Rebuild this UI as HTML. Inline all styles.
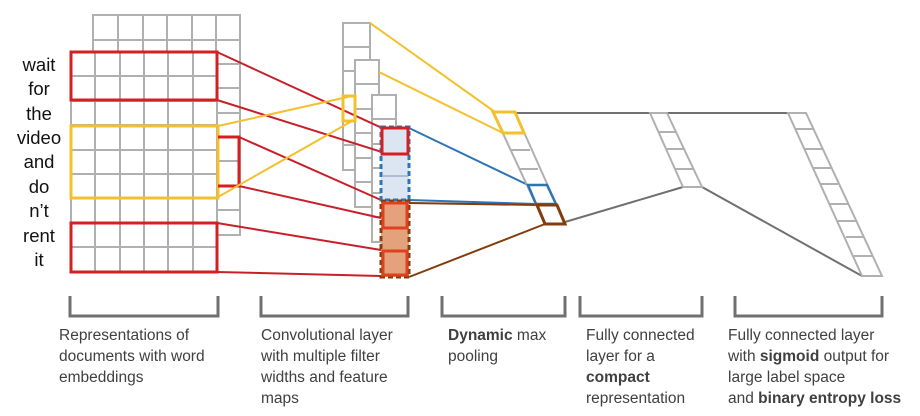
<!DOCTYPE html>
<html><head><meta charset="utf-8"><style>
html,body{margin:0;padding:0;background:#fff;}
svg{display:block;font-family:"Liberation Sans",sans-serif;}
.lbl{font-size:15.5px;fill:#404040;}
.w{font-size:18.5px;fill:#111;text-anchor:middle;}
</style></head><body>
<svg width="920" height="416" viewBox="0 0 920 416">
<g stroke="#b0b0b0" stroke-width="2" fill="#fff">
<rect x="93" y="15" width="147" height="220"/>
<path d="M118 15V52M143 15V52M167 15V52M192 15V52M216 15V52 M93 40H240 M217 64H240 M217 88H240 M217 113H240 M217 137H240 M217 161H240 M217 186H240 M217 210H240"/>
</g>
<g stroke="#b0b0b0" stroke-width="2" fill="#fff">
<rect x="71" y="52" width="146" height="220"/>
<path d="M95 52V272M120 52V272M144 52V272M168 52V272M193 52V272 M71 76H217M71 101H217M71 125H217M71 150H217M71 174H217M71 198H217M71 223H217M71 247H217"/>
</g>
<g>
<text class="w" x="39" y="71">wait</text><text class="w" x="39" y="95">for</text><text class="w" x="39" y="120">the</text><text class="w" x="39" y="144">video</text><text class="w" x="39" y="168">and</text><text class="w" x="39" y="193">do</text><text class="w" x="39" y="217">n’t</text><text class="w" x="39" y="242">rent</text><text class="w" x="39" y="266">it</text>
</g>
<g fill="none" stroke-width="3">
<rect x="71" y="52" width="146" height="48" stroke="#d42020"/>
<rect x="71" y="223" width="146" height="49" stroke="#d42020"/>
<rect x="71" y="126" width="147" height="72" stroke="#f2c12e"/>
<path d="M218 137H239V186H218" stroke="#d42020"/>
</g>
<g stroke="#b0b0b0" stroke-width="2" fill="#fff">
<rect x="343" y="23" width="27" height="147"/>
<path d="M343 47H370M343 71H370M343 96H370M343 121H370M343 145H370"/>
<rect x="355" y="60" width="24" height="147"/>
<path d="M355 84H379M355 109H379M355 133H379M355 158H379M355 182H379"/>
<rect x="372" y="95" width="24" height="147"/>
<path d="M372 119H396M372 144H396M372 168H396M372 193H396M372 217H396"/>
</g>
<g fill="none" stroke-width="2">
<path d="M217 52L382 128M217 100L382 152M239 137L381 200M239 186L381 218M217 223L381 250M217 272L381 276" stroke="#c8202a"/>
<path d="M218 126L352 96M218 197L352 121M370 23L495 112M379 72L503 133" stroke="#f2c12e"/>
<path d="M409 128L528 185M409 200L536 204" stroke="#2e75b6"/>
<path d="M409 203L537 205M409 277L545 224" stroke="#843c0c"/>
<path d="M515 113H650M565 222L683 187M667 113H788M702 187L862 276" stroke="#707070"/>
</g>
<rect x="343" y="96" width="12" height="25" fill="none" stroke="#f2c12e" stroke-width="3"/>
<g>
<rect x="381" y="127" width="28" height="73" fill="#dce6f2" stroke="#2e75b6" stroke-width="3" stroke-dasharray="5,3"/>
<path d="M382 176H408" stroke="#9fb0c4" stroke-width="1.5"/>
<rect x="382" y="128" width="26" height="26" fill="none" stroke="#d42020" stroke-width="3"/>
<rect x="381" y="201" width="28" height="76" fill="#e3a27c" stroke="#843c0c" stroke-width="3" stroke-dasharray="5,3"/>
<rect x="383" y="203" width="24" height="25" fill="none" stroke="#e0401e" stroke-width="3"/>
<rect x="383" y="251" width="24" height="24" fill="none" stroke="#e0401e" stroke-width="3"/>
</g>
<g fill="none" stroke-width="2">
<path d="M493 112L545 224M515 112L565 224M503 133H522M511 150H530M519 169H538" stroke="#b0b0b0"/>
<path d="M493 112H515L524 133H503Z" stroke="#f2c12e" stroke-width="3"/>
<path d="M528 185H547L556 204H536Z" stroke="#2e75b6" stroke-width="2.5"/>
<path d="M537 205H557L565 224H545Z" stroke="#843c0c" stroke-width="3"/>
</g>
<g fill="none" stroke="#b0b0b0" stroke-width="2">
<path d="M650 113H667L702 187H683Z M659 132H676M667 149H685M675 169H693"/>
</g>
<g fill="none" stroke="#b0b0b0" stroke-width="2">
<path d="M788 113H806L882 276H862Z M795 129H813M805 149H822M813 168H831M821 184H838M830 204H848M838 221H856M846 237H863M854 256H872"/>
</g>
<g fill="none" stroke="#707070" stroke-width="3">
<path d="M70 296V316H218V296M261 296V316H408V296M442 296V316H565V296M580 296V316H702V296M735 296V316H882V296"/>
</g>
<g>
<text class="lbl" x="59" y="340">Representations of</text>
<text class="lbl" x="59" y="361">documents with word</text>
<text class="lbl" x="59" y="382">embeddings</text>
<text class="lbl" x="261" y="340">Convolutional layer</text>
<text class="lbl" x="261" y="361">with multiple filter</text>
<text class="lbl" x="261" y="382">widths and feature</text>
<text class="lbl" x="261" y="403">maps</text>
<text class="lbl" x="448" y="340"><tspan font-weight="bold">Dynamic</tspan> max</text>
<text class="lbl" x="448" y="361">pooling</text>
<text class="lbl" x="586" y="340">Fully connected</text>
<text class="lbl" x="586" y="361">layer for a</text>
<text class="lbl" x="586" y="382" font-weight="bold">compact</text>
<text class="lbl" x="586" y="403">representation</text>
<text class="lbl" x="728" y="340">Fully connected layer</text>
<text class="lbl" x="728" y="361">with <tspan font-weight="bold">sigmoid</tspan> output for</text>
<text class="lbl" x="728" y="382">large label space</text>
<text class="lbl" x="728" y="403">and <tspan font-weight="bold">binary entropy loss</tspan></text>
</g>
</svg>
</body></html>
